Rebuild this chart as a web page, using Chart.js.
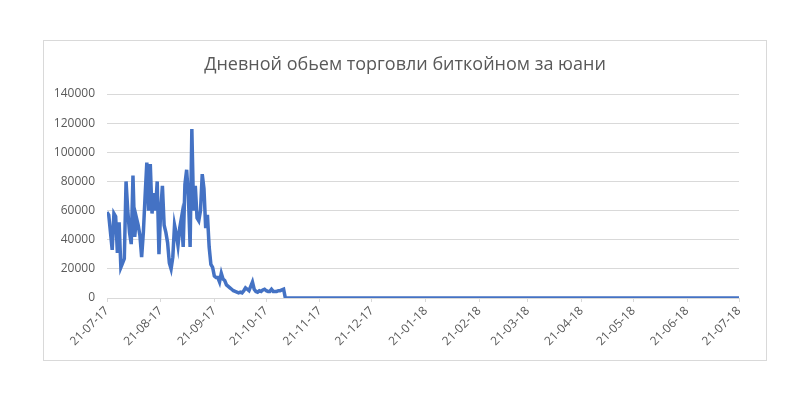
<!DOCTYPE html>
<html>
<head>
<meta charset="utf-8">
<script src="https://cdn.jsdelivr.net/npm/chart.js@4"></script>
<style>
  html, body { margin: 0; padding: 0; background: #fff; }
  #frame { position: absolute; left: 43px; top: 40px; width: 722px; height: 319px; border: 1px solid #d9d9d9; }
  #wrap { position: absolute; left: 0; top: 0; width: 810px; height: 405px; }
  #title { position: absolute; left: 43px; width: 724px; top: 51px; text-align: center;
           font: 18px 'Open Sans', sans-serif; color: #595959; line-height: 24px; }
</style>
</head>
<body>
<div id="frame"></div>
<div id="wrap"><canvas id="volumeChart"></canvas></div>
<div id="title">Дневной обьем торговли биткойном за юани</div>
<script>
        // --- Data (one value per day, starting 21-07-17) ---

        const activeDays = [
            59000, 57000, 45000, 33000, 58000, 56000, 31000, 52000, 21000, 24000,
            27000, 80000, 60000, 45000, 37000, 84000, 42000, 55000, 50000, 43000,
            28000, 45000, 70000, 93000, 60000, 92000, 58000, 72000, 60000, 80000,
            30000, 60000, 77000, 50000, 45000, 38000, 24000, 20000, 28000, 50000,
            44000, 36000, 48000, 55000, 35000, 78000, 88000, 70000, 35000, 116000,
            60000, 77000, 55000, 53000, 60000, 85000, 75000, 48000, 57000, 35000,
            23000, 21000, 15000, 14000, 14000, 11000, 17000, 13000, 12000, 9000,
            8000, 7000, 6000, 5000, 4500, 4000, 3500, 4000, 3500, 5000,
            7000, 6000, 5000, 8000, 11000, 6000, 4500, 4000, 5000, 4500,
            5500, 6000, 5000, 4500, 4500, 6000, 4500, 4500, 4500, 5000,
            5000, 5500, 6000
        ];

        // from 01-11-17 to 21-07-18 the volume is zero
        const zeroDays = [
            0,0,0,0,0,0,0,0,0,0,0,0,0,0,0,0,0,0,0,0,0,0,0,0,0,0,0,0,0,0,
            0,0,0,0,0,0,0,0,0,0,0,0,0,0,0,0,0,0,0,0,0,0,0,0,0,0,0,0,0,0,
            0,0,0,0,0,0,0,0,0,0,0,0,0,0,0,0,0,0,0,0,0,0,0,0,0,0,0,0,0,0,
            0,0,0,0,0,0,0,0,0,0,0,0,0,0,0,0,0,0,0,0,0,0,0,0,0,0,0,0,0,0,
            0,0,0,0,0,0,0,0,0,0,0,0,0,0,0,0,0,0,0,0,0,0,0,0,0,0,0,0,0,0,
            0,0,0,0,0,0,0,0,0,0,0,0,0,0,0,0,0,0,0,0,0,0,0,0,0,0,0,0,0,0,
            0,0,0,0,0,0,0,0,0,0,0,0,0,0,0,0,0,0,0,0,0,0,0,0,0,0,0,0,0,0,
            0,0,0,0,0,0,0,0,0,0,0,0,0,0,0,0,0,0,0,0,0,0,0,0,0,0,0,0,0,0,
            0,0,0,0,0,0,0,0,0,0,0,0,0,0,0,0,0,0,0,0,0,0,0
        ];

        const volume = activeDays.concat(zeroDays);

        // monthly ticks: day offset from 21-07-17 and label
        const tickDays = [0, 31, 62, 92, 123, 153, 184, 215, 243, 274, 304, 335, 365];
        const tickLabels = ['21-07-17', '21-08-17', '21-09-17', '21-10-17', '21-11-17', '21-12-17',
            '21-01-18', '21-02-18', '21-03-18', '21-04-18', '21-05-18', '21-06-18', '21-07-18'];

        const yTicks = [0, 20000, 40000, 60000, 80000, 100000, 120000, 140000];

        // --- Chart ---

        const points = volume.map((v, i) => ({ x: i, y: v }));
        const textColor = '#595959';
        const gridColor = '#d9d9d9';

        new Chart(document.getElementById('volumeChart'), {
            type: 'line',
            data: {
                datasets: [{
                    label: 'Объем',
                    data: points,
                    borderColor: '#4472C4',
                    borderWidth: 3.5,
                    pointRadius: 0,
                    tension: 0,
                    fill: false
                }]
            },
            options: {
                responsive: true,
                maintainAspectRatio: false,
                animation: false,
                layout: { padding: { left: 0, right: 71, top: 94, bottom: 0 } },
                plugins: {
                    legend: { display: false },
                    tooltip: { enabled: false }
                },
                scales: {
                    x: {
                        type: 'linear',
                        min: 0,
                        max: 365,
                        afterBuildTicks: (axis) => {
                            axis.ticks = tickDays.map(d => ({ value: d }));
                        },
                        afterFit: (axis) => { axis.height = 107; },
                        ticks: {
                            autoSkip: false,
                            minRotation: 45,
                            maxRotation: 45,
                            color: textColor,
                            padding: 2,
                            font: { family: 'Open Sans', size: 12 },
                            callback: (value) => tickLabels[tickDays.indexOf(value)]
                        },
                        grid: {
                            drawOnChartArea: false,
                            drawTicks: true,
                            tickLength: 4,
                            color: gridColor
                        },
                        border: { display: true, color: gridColor, width: 1 }
                    },
                    y: {
                        min: 0,
                        max: 140000,
                        afterBuildTicks: (axis) => {
                            axis.ticks = yTicks.map(v => ({ value: v }));
                        },
                        afterFit: (axis) => { axis.width = 107; },
                        ticks: {
                            color: textColor,
                            padding: 12,
                            font: { family: 'Open Sans', size: 12 },
                            callback: (value) => String(value)
                        },
                        grid: { color: gridColor, drawTicks: false },
                        border: { display: false }
                    }
                }
            }
        });
</script>
</body>
</html>
